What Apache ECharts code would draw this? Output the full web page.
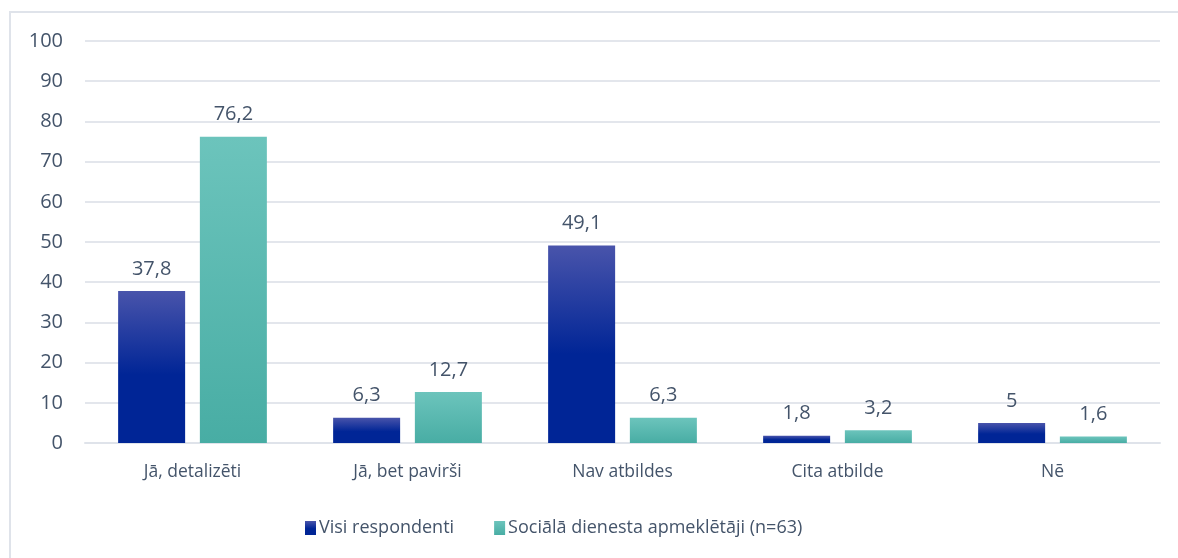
<!DOCTYPE html>
<html>
<head>
<meta charset="utf-8">
<script src="https://cdn.jsdelivr.net/npm/echarts@6/dist/echarts.min.js"></script>
<style>
  html, body { margin: 0; padding: 0; background: #fff; }
  #chart { width: 1178px; height: 558px; }
</style>
</head>
<body>
<div id="chart"></div>
<script>
var categories = ['Jā, detalizēti', 'Jā, bet pavirši', 'Nav atbildes', 'Cita atbilde', 'Nē'];
var seriesNames = ['Visi respondenti', 'Sociālā dienesta apmeklētāji (n=63)'];
var allRespondents = [37.8, 6.3, 49.1, 1.8, 5];
var socialVisitors = [76.2, 12.7, 6.3, 3.2, 1.6];

var textColor = '#44546a';
var fontName = '"Open Sans", "Noto Sans", sans-serif';

function commaLabel(p) {
  return String(p.value).replace('.', ',');
}

var chart = echarts.init(document.getElementById('chart'));
var option = {
  animation: false,
  textStyle: { fontFamily: fontName },
  graphic: [{
    type: 'rect',
    shape: { x: 10, y: 12, width: 1180, height: 560 },
    style: { fill: 'none', stroke: '#dfe3ea', lineWidth: 2 },
    silent: true
  }],
  legend: {
    top: 514,
    left: 300,
    itemWidth: 11,
    itemHeight: 14,
    itemGap: 40,
    icon: 'rect',
    textStyle: { color: textColor, fontSize: 18, fontFamily: fontName, padding: [0, 0, 0, -2] },
    data: seriesNames
  },
  grid: { left: 85, right: 18, top: 41, bottom: 115 },
  xAxis: {
    type: 'category',
    data: categories,
    axisLine: { lineStyle: { color: '#dfe3ea', width: 2 } },
    axisTick: { show: false },
    axisLabel: { color: textColor, fontSize: 17.5, margin: 20 }
  },
  yAxis: {
    type: 'value',
    min: 0,
    max: 100,
    interval: 10,
    axisLine: { show: false },
    axisTick: { show: false },
    axisLabel: { color: textColor, fontSize: 20, margin: 22 },
    splitLine: { lineStyle: { color: '#e3e6ec', width: 2 } }
  },
  series: [
    {
      name: seriesNames[0],
      type: 'bar',
      data: allRespondents,
      barWidth: 67,
      barGap: '22%',
      itemStyle: {
        color: new echarts.graphic.LinearGradient(0, 0, 0, 1, [
          { offset: 0, color: '#4954ab' },
          { offset: 0.55, color: '#002596' },
          { offset: 1, color: '#002596' }
        ], false)
      },
      label: {
        show: true,
        position: 'top',
        distance: 12,
        color: textColor,
        fontSize: 20,
        formatter: commaLabel
      }
    },
    {
      name: seriesNames[1],
      type: 'bar',
      data: socialVisitors,
      barWidth: 67,
      itemStyle: {
        color: new echarts.graphic.LinearGradient(0, 0, 0, 1, [
          { offset: 0, color: '#6cc4bc' },
          { offset: 1, color: '#48ada4' }
        ], false)
      },
      label: {
        show: true,
        position: 'top',
        distance: 12,
        color: textColor,
        fontSize: 20,
        formatter: commaLabel
      }
    }
  ]
};
chart.setOption(option);
</script>
</body>
</html>
